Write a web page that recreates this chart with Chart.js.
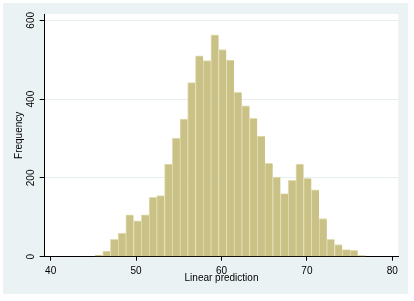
<!DOCTYPE html>
<html>
<head>
<meta charset="utf-8">
<script src="https://cdn.jsdelivr.net/npm/chart.js@4"></script>
<style>
  html, body { margin: 0; padding: 0; background: #ffffff; }
  #wrap { width: 414px; height: 301px; }
</style>
</head>
<body>
<div id="wrap"><canvas id="c" width="414" height="301"></canvas></div>
<script>
// Bin centres (Linear prediction) and bar heights (Frequency)
const binCenters = [45.63, 46.54, 47.44, 48.35, 49.25, 50.16, 51.06, 51.97, 52.87, 53.78,
                    54.68, 55.59, 56.49, 57.40, 58.30, 59.21, 60.11, 61.02, 61.92, 62.83,
                    63.73, 64.64, 65.54, 66.45, 67.35, 68.26, 69.16, 70.07, 70.97, 71.88,
                    72.78, 73.69, 74.59, 75.50, 76.40];
const frequencies = [4, 14, 44, 60, 106, 91, 106, 151, 155, 235,
                     301, 349, 442, 510, 498, 563, 526, 499, 417, 383,
                     351, 306, 237, 202, 160, 194, 235, 199, 170, 97,
                     44, 31, 18, 16, 3];
const xTickValues = [40, 50, 60, 70, 80];
const yTickValues = [0, 200, 400, 600];
const xTitle = 'Linear prediction';
const yTitle = 'Frequency';

const points = binCenters.map((x, i) => ({ x: x, y: frequencies[i] }));

const bgPlugin = {
  id: 'stataBg',
  beforeDraw(chart) {
    const ctx = chart.ctx;
    const a = chart.chartArea;
    ctx.save();
    ctx.fillStyle = '#ffffff';
    ctx.fillRect(0, 0, chart.width, chart.height);
    ctx.fillStyle = '#EAF2F3';
    ctx.fillRect(3, 3, 405, 291);
    ctx.fillStyle = '#ffffff';
    ctx.fillRect(a.left, a.top, a.right - a.left, a.bottom - a.top);
    ctx.restore();
  }
};

const font = { family: '"Liberation Sans", Arial, sans-serif', size: 10 };

new Chart(document.getElementById('c'), {
  type: 'bar',
  data: {
    datasets: [{
      data: points,
      backgroundColor: '#C9C185',
      borderColor: '#E2DDB2',
      borderWidth: { left: 1, right: 0, top: 1, bottom: 0 },
      barPercentage: 1,
      categoryPercentage: 1
    }]
  },
  options: {
    responsive: false,
    animation: false,
    devicePixelRatio: 1,
    layout: { padding: { left: 0, top: 14, right: 15.7, bottom: 16.5 } },
    plugins: { legend: { display: false }, tooltip: { enabled: false } },
    scales: {
      x: {
        type: 'linear',
        min: 39.3,
        max: 80.7,
        offset: false,
        afterBuildTicks(scale) { scale.ticks = xTickValues.map(v => ({ value: v })); },
        afterFit(scale) { scale.height = 27.8; },
        grid: { display: true, drawOnChartArea: false, offset: false, tickLength: 4, tickColor: '#000000', tickWidth: 1 },
        border: { display: true, color: '#000000', width: 1 },
        ticks: { color: '#000000', font: font, padding: 5, maxRotation: 0, autoSkip: false },
        title: { display: true, text: xTitle, color: '#000000', font: font, padding: { top: 0, bottom: 0 } }
      },
      y: {
        type: 'linear',
        min: 0,
        max: 616,
        afterBuildTicks(scale) { scale.ticks = yTickValues.map(v => ({ value: v })); },
        afterFit(scale) { scale.width = 44.7; },
        grid: { display: true, color: '#E6EEF0', lineWidth: 1, tickLength: 5, tickColor: '#000000', tickWidth: 1 },
        border: { display: true, color: '#000000', width: 1 },
        ticks: { color: '#000000', font: font, padding: 0, minRotation: 90, maxRotation: 90, crossAlign: 'center', autoSkip: false },
        title: { display: true, text: yTitle, color: '#000000', font: font, padding: { top: 13, bottom: 0 } }
      }
    }
  },
  plugins: [bgPlugin]
});
</script>
</body>
</html>
